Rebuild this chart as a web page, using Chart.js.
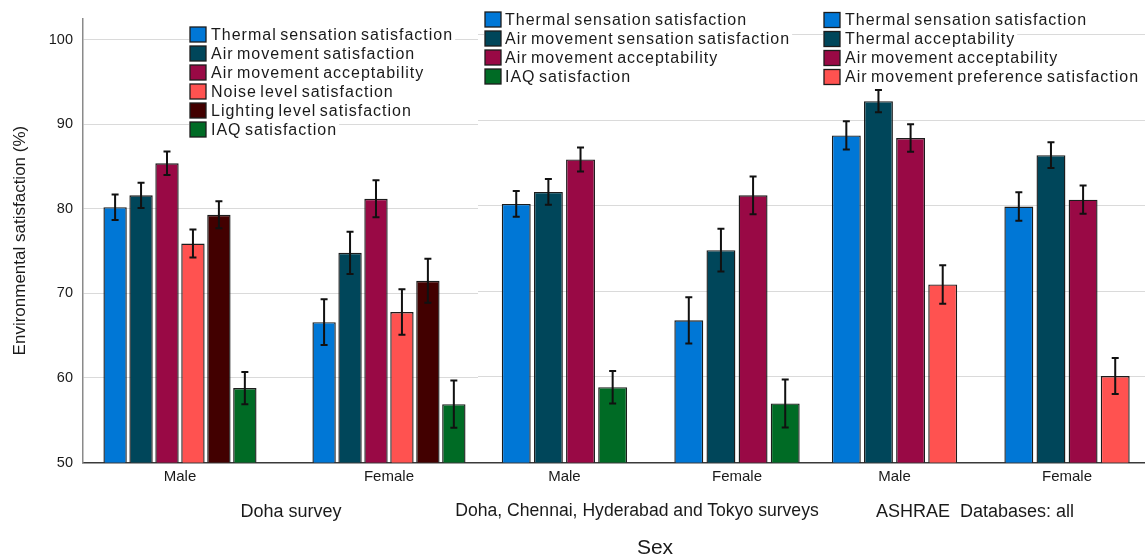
<!DOCTYPE html>
<html>
<head>
<meta charset="utf-8">
<title>Environmental satisfaction by sex</title>
<script src="https://cdn.jsdelivr.net/npm/chart.js@4.4.1/dist/chart.umd.min.js"></script>
<style>
  html, body { margin: 0; padding: 0; background: #ffffff; }
  #wrap { position: relative; width: 1145px; height: 558px; overflow: hidden;
          font-family: 'Liberation Sans', Arial, Helvetica, sans-serif; color: #1a1a1a; }
  .panel { position: absolute; top: 0; height: 558px; }
  .caption { position: absolute; white-space: pre; transform: translate(-50%, -50%); line-height: 1; }
</style>
</head>
<body>
<div id="wrap">
  <div class="panel" style="left:0;width:478px"><canvas id="panelDoha"></canvas></div>
  <div class="panel" style="left:478px;width:337px"><canvas id="panelMulti"></canvas></div>
  <div class="panel" style="left:815px;width:330px"><canvas id="panelAshrae"></canvas></div>
</div>
<script>
// ---- categories and labels ----
const sexes = ['Male', 'Female'];
const panelTitles = ['Doha survey', 'Doha, Chennai, Hyderabad and Tokyo surveys', 'ASHRAE  Databases: all'];
const xAxisTitle = 'Sex';
const yAxisTitle = 'Environmental satisfaction (%)';
const yTicks = [50, 60, 70, 80, 90, 100];

// ---- Doha survey (Male, Female) ----
const dohaThermalSensation = [80.2, 66.6];
const dohaThermalSensationErr = [1.5, 2.7];
const dohaAirMovement = [81.6, 74.8];
const dohaAirMovementErr = [1.5, 2.5];
const dohaAirAcceptability = [85.4, 81.2];
const dohaAirAcceptabilityErr = [1.4, 2.2];
const dohaNoise = [75.9, 67.8];
const dohaNoiseErr = [1.65, 2.7];
const dohaLighting = [79.3, 71.5];
const dohaLightingErr = [1.6, 2.6];
const dohaIaq = [58.8, 56.9];
const dohaIaqErr = [1.9, 2.8];

// ---- Doha, Chennai, Hyderabad and Tokyo surveys (Male, Female) ----
const multiThermalSensation = [80.2, 66.6];
const multiThermalSensationErr = [1.5, 2.7];
const multiAirMovementSensation = [81.6, 74.8];
const multiAirMovementSensationErr = [1.5, 2.5];
const multiAirAcceptability = [85.4, 81.2];
const multiAirAcceptabilityErr = [1.4, 2.2];
const multiIaq = [58.8, 56.9];
const multiIaqErr = [1.9, 2.8];

// ---- ASHRAE Databases: all (Male, Female) ----
const ashraeThermalSensation = [88.2, 79.9];
const ashraeThermalSensationErr = [1.65, 1.65];
const ashraeThermalAcceptability = [92.2, 85.9];
const ashraeThermalAcceptabilityErr = [1.3, 1.5];
const ashraeAirAcceptability = [87.9, 80.7];
const ashraeAirAcceptabilityErr = [1.6, 1.65];
const ashraeAirPreference = [70.8, 60.1];
const ashraeAirPreferenceErr = [2.25, 2.1];

// ---- styling ----
const FONT = "'Liberation Sans', Arial, Helvetica, sans-serif";
const INK = '#1a1a1a';
const COLORS = {
  blue: '#0077d6',
  teal: '#00465a',
  crimson: '#990945',
  coral: '#ff5250',
  maroon: '#420000',
  green: '#006b25'
};

// Vertical error whiskers drawn on top of each bar
const errorBarPlugin = {
  id: 'errorBars',
  afterDatasetsDraw(chart) {
    const ctx = chart.ctx;
    const y = chart.scales.y;
    ctx.save();
    ctx.strokeStyle = '#111111';
    ctx.lineWidth = 2;
    chart.data.datasets.forEach((ds, di) => {
      const meta = chart.getDatasetMeta(di);
      meta.data.forEach((bar, i) => {
        const v = ds.data[i].y;
        const e = ds.errors[i];
        const top = y.getPixelForValue(v + e);
        const bot = y.getPixelForValue(v - e);
        const x = bar.x;
        const cap = 3.5;
        ctx.beginPath();
        ctx.moveTo(x, top); ctx.lineTo(x, bot);
        ctx.moveTo(x - cap, top); ctx.lineTo(x + cap, top);
        ctx.moveTo(x - cap, bot); ctx.lineTo(x + cap, bot);
        ctx.stroke();
      });
    });
    ctx.restore();
  }
};

// Legend stacked inside the plot, one row per dataset
const boxLegendPlugin = {
  id: 'boxLegend',
  afterDraw(chart, args, opts) {
    const ctx = chart.ctx;
    ctx.save();
    ctx.font = '16px ' + FONT;
    if ('letterSpacing' in ctx) ctx.letterSpacing = '1px';
    if ('wordSpacing' in ctx) ctx.wordSpacing = '-2px';
    ctx.textBaseline = 'middle';
    ctx.textAlign = 'left';
    chart.data.datasets.forEach((ds, i) => {
      const cy = opts.y + i * opts.rowHeight;
      const w = ctx.measureText(ds.label).width;
      ctx.fillStyle = '#ffffff';
      ctx.fillRect(opts.x - 1, cy - opts.rowHeight / 2, opts.textGap + w + 3, opts.rowHeight);
      ctx.fillStyle = ds.backgroundColor;
      ctx.fillRect(opts.x, cy - 7.5, 16, 15);
      ctx.strokeStyle = '#1c1c1c';
      ctx.lineWidth = 1.3;
      ctx.strokeRect(opts.x, cy - 7.5, 16, 15);
      ctx.fillStyle = INK;
      ctx.fillText(ds.label, opts.x + opts.textGap, cy + 1);
    });
    ctx.restore();
  }
};

function makePanel(canvasId, series, cfg) {
  const showY = cfg.showYAxis;
  return new Chart(document.getElementById(canvasId), {
    type: 'bar',
    data: {
      datasets: series.map(s => ({
        label: s.label,
        data: s.values.map((v, i) => ({ x: i, y: v })),
        errors: s.errors,
        backgroundColor: s.color,
        borderColor: '#1c1c1c',
        borderWidth: 1.4,
        borderSkipped: false,
        barPercentage: 0.9,
        categoryPercentage: 0.745
      }))
    },
    options: {
      responsive: true,
      maintainAspectRatio: false,
      animation: false,
      devicePixelRatio: 1,
      layout: { padding: { top: 13, left: 0, right: 0, bottom: 0 } },
      plugins: {
        legend: { display: false },
        tooltip: { enabled: false },
        boxLegend: cfg.legend
      },
      scales: {
        x: {
          type: 'linear',
          offset: false,
          bounds: 'data',
          min: cfg.xMin,
          max: cfg.xMax,
          grid: { display: false, drawTicks: false, offset: false },
          border: { display: true, color: '#3a3a3a', width: 1.5 },
          afterBuildTicks: s => { s.ticks = sexes.map((_, i) => ({ value: i })); },
          ticks: {
            autoSkip: false, maxRotation: 0, padding: 5, color: INK,
            font: { family: FONT, size: 15 },
            callback: v => sexes[v]
          },
          afterFit: s => { s.height = 95.5; }
        },
        y: {
          min: 50,
          max: 102.5,
          afterBuildTicks: s => { s.ticks = yTicks.map(v => ({ value: v })); },
          grid: { color: '#dadada', lineWidth: 1, drawTicks: false },
          border: { display: showY, color: '#8a8a8a', width: 1.5 },
          ticks: { display: showY, padding: 10, color: INK, font: { family: FONT, size: 14.5 } },
          title: {
            display: showY, text: yAxisTitle, color: INK,
            font: { family: FONT, size: 17 }, padding: { top: 10, bottom: 0 }
          },
          afterFit: s => { s.width = showY ? 83 : 0; }
        }
      }
    },
    plugins: [errorBarPlugin, boxLegendPlugin]
  });
}

makePanel('panelDoha', [
  { label: 'Thermal sensation satisfaction', values: dohaThermalSensation, errors: dohaThermalSensationErr, color: COLORS.blue },
  { label: 'Air movement satisfaction', values: dohaAirMovement, errors: dohaAirMovementErr, color: COLORS.teal },
  { label: 'Air movement acceptability', values: dohaAirAcceptability, errors: dohaAirAcceptabilityErr, color: COLORS.crimson },
  { label: 'Noise level satisfaction', values: dohaNoise, errors: dohaNoiseErr, color: COLORS.coral },
  { label: 'Lighting level satisfaction', values: dohaLighting, errors: dohaLightingErr, color: COLORS.maroon },
  { label: 'IAQ satisfaction', values: dohaIaq, errors: dohaIaqErr, color: COLORS.green }
], { showYAxis: true, xMin: -0.464, xMax: 1.426, legend: { x: 190, y: 34.5, rowHeight: 19, textGap: 21 } });

makePanel('panelMulti', [
  { label: 'Thermal sensation satisfaction', values: multiThermalSensation, errors: multiThermalSensationErr, color: COLORS.blue },
  { label: 'Air movement sensation satisfaction', values: multiAirMovementSensation, errors: multiAirMovementSensationErr, color: COLORS.teal },
  { label: 'Air movement acceptability', values: multiAirAcceptability, errors: multiAirAcceptabilityErr, color: COLORS.crimson },
  { label: 'IAQ satisfaction', values: multiIaq, errors: multiIaqErr, color: COLORS.green }
], { showYAxis: false, xMin: -0.501, xMax: 1.452, legend: { x: 7, y: 19.5, rowHeight: 19, textGap: 20 } });

makePanel('panelAshrae', [
  { label: 'Thermal sensation satisfaction', values: ashraeThermalSensation, errors: ashraeThermalSensationErr, color: COLORS.blue },
  { label: 'Thermal acceptability', values: ashraeThermalAcceptability, errors: ashraeThermalAcceptabilityErr, color: COLORS.teal },
  { label: 'Air movement acceptability', values: ashraeAirAcceptability, errors: ashraeAirAcceptabilityErr, color: COLORS.crimson },
  { label: 'Air movement preference satisfaction', values: ashraeAirPreference, errors: ashraeAirPreferenceErr, color: COLORS.coral }
], { showYAxis: false, xMin: -0.461, xMax: 1.452, legend: { x: 9, y: 20, rowHeight: 19, textGap: 21 } });

// Panel captions and the shared x-axis title
const wrap = document.getElementById('wrap');
const captionSpots = [[291, 511, 18], [637, 511, 17.6], [975, 511, 18]];
panelTitles.forEach((t, i) => {
  const d = document.createElement('div');
  d.className = 'caption';
  d.textContent = t;
  d.style.left = captionSpots[i][0] + 'px';
  d.style.top = captionSpots[i][1] + 'px';
  d.style.fontSize = captionSpots[i][2] + 'px';
  wrap.appendChild(d);
});
const sexTitle = document.createElement('div');
sexTitle.className = 'caption';
sexTitle.textContent = xAxisTitle;
sexTitle.style.left = '655px';
sexTitle.style.top = '546px';
sexTitle.style.fontSize = '21px';
wrap.appendChild(sexTitle);
</script>
</body>
</html>
